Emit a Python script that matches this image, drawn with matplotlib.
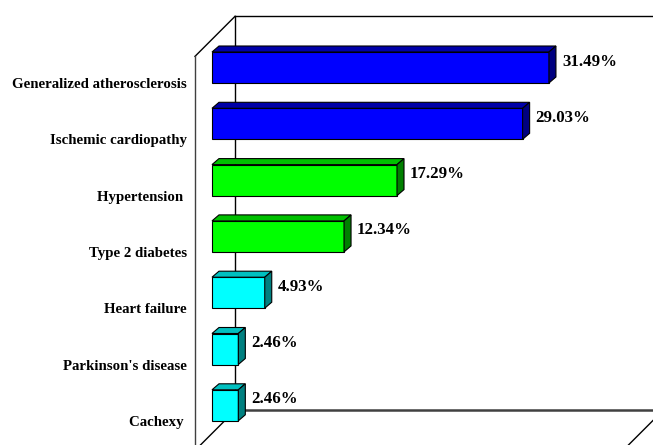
import matplotlib.pyplot as plt
from matplotlib.patches import Polygon

# data (top to bottom)
diseases = ['Generalized atherosclerosis', 'Ischemic cardiopathy', 'Hypertension ',
            'Type 2 diabetes', 'Heart failure', "Parkinson's disease", 'Cachexy ']
share = [31.49, 29.03, 17.29, 12.34, 4.93, 2.46, 2.46]
front_cols = ['#0000ff', '#0000ff', '#00ff00', '#00ff00', '#00ffff', '#00ffff', '#00ffff']
top_cols = ['#0000a8', '#0000a8', '#00c000', '#00c000', '#00c0c0', '#00c0c0', '#00c0c0']
side_cols = ['#000080', '#000080', '#008000', '#008000', '#008080', '#008080', '#008080']

W, H = 653, 445
# pixel layout of the "bar plane"
x0, sx = 212, 10.7          # px of value 0, px per percent
y0, sy = 67.5, 56.3         # px of first category centre, px per category
px = 1 / sx                 # one pixel in x data units
py = 1 / sy                 # one pixel in y data units
bdx, bdy = 7, 6             # bar depth offset (px)
front, back = 17, 23        # wall planes relative to bar plane (px)
vmax = 40

plt.rcParams['font.family'] = ['Liberation Serif', 'DejaVu Serif']
fig = plt.figure(figsize=(W / 100, H / 100), dpi=100)
ax = fig.add_axes([0, 0, 1, 1])
ax.set_xlim(-x0 / sx, (W - x0) / sx)
ax.set_ylim((H - y0) / sy, -y0 / sy)
ax.axis('off')

n = len(diseases)
ytop, ybot = -0.5, n - 0.5


def shift(v, i, d):
    # move point along the depth direction by d pixels
    return v + d * px, i - d * py


# walls and floor
bt = shift(0, ytop, back)
bb = shift(0, ybot, back)
ft = shift(0, ytop, -front)
fb = shift(0, ybot, -front)
brb = shift(vmax, ybot, back)
frb = shift(vmax, ybot, -front)
ax.plot([bt[0], bt[0] + 60], [bt[1], bt[1]], color='black', lw=1, zorder=1)
ax.plot([bt[0], bb[0]], [bt[1], bb[1]], color='black', lw=1, zorder=1)
ax.plot([bb[0], brb[0] + 5], [bb[1], bb[1]], color='#404040', lw=1.8, zorder=1)
ax.plot([ft[0], bt[0]], [ft[1], bt[1]], color='black', lw=1, zorder=1)
ax.plot([ft[0], fb[0]], [ft[1], fb[1] + 1], color='#404040', lw=1, zorder=1)
ax.plot([fb[0], bb[0]], [fb[1], bb[1]], color='black', lw=1, zorder=1)
ax.plot([frb[0], brb[0]], [frb[1], brb[1]], color='black', lw=1, zorder=1)

# bars: front face from the library, top and side faces as polygons
h = 31 / sy
ypos = list(range(n))
ax.barh(ypos, share, height=h, left=0, color=front_cols, edgecolor='black',
        linewidth=0.8, zorder=3)
for i, v in enumerate(share):
    t, b = i - h / 2, i + h / 2
    dx, dy = bdx * px, bdy * py
    top = [(0, t), (v, t), (v + dx, t - dy), (dx, t - dy)]
    side = [(v, t), (v + dx, t - dy), (v + dx, b - dy), (v, b)]
    ax.add_patch(Polygon(top, closed=True, facecolor=top_cols[i], edgecolor='black',
                         lw=0.8, zorder=3))
    ax.add_patch(Polygon(side, closed=True, facecolor=side_cols[i], edgecolor='black',
                         lw=0.8, zorder=3))
    ax.text(v + dx + 6 * px, i - 6 * py, f'{v:.2f}%', ha='left', va='center',
            fontsize=12.2, fontweight='bold', zorder=4)

# category labels projected on the front plane
for i, name in enumerate(diseases):
    ax.text(-front * px - 8 * px, i + front * py, name, ha='right', va='center',
            fontsize=10.7, fontweight='bold')

fig.savefig('out.png', dpi=100)
